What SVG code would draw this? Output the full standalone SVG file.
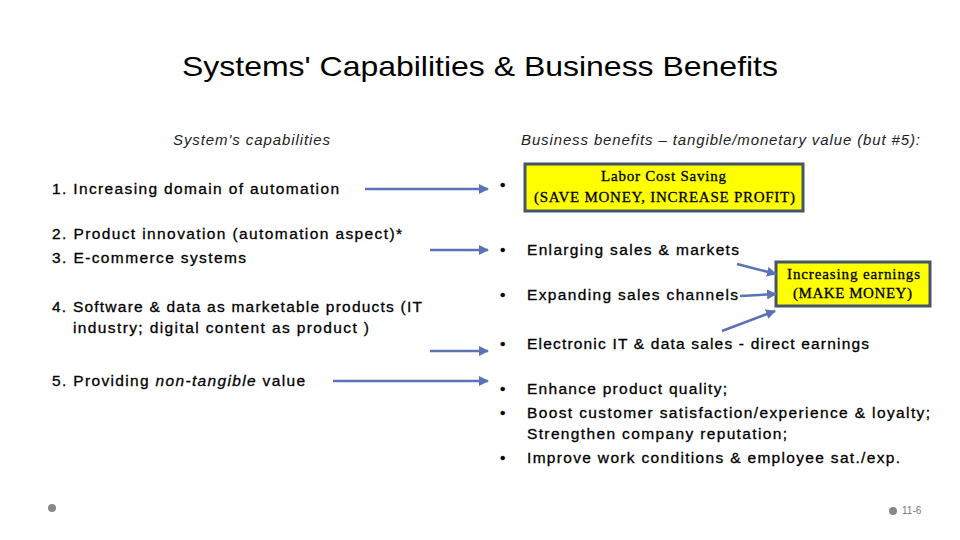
<svg xmlns="http://www.w3.org/2000/svg" width="960" height="540" viewBox="0 0 960 540">
<style>
.t{font-family:"Liberation Sans",Arial,sans-serif;font-size:15.5px;fill:#000;stroke:#000;stroke-width:0.3}
.h{font-family:"Liberation Sans",Arial,sans-serif;font-size:15px;font-style:italic;fill:#222}
.s{font-family:"Liberation Serif","Times New Roman",serif;font-size:15px;fill:#000;stroke:#000;stroke-width:0.3}
.a{stroke:#5b73b5;stroke-width:2.5;fill:none;marker-end:url(#ah)}
.box{fill:#ffff00;stroke:#44546a;stroke-width:3}
</style>
<defs><marker id="ah" viewBox="0 0 10 10" refX="9" refY="5" markerWidth="4" markerHeight="4" orient="auto"><path d="M0,0L10,5L0,10z" fill="#5b73b5"/></marker></defs>
<rect width="960" height="540" fill="#fff"/>
<text x="182" y="76" textLength="596" lengthAdjust="spacingAndGlyphs" font-family="Liberation Sans,Arial,sans-serif" font-size="28" fill="#000">Systems' Capabilities &amp; Business Benefits</text>
<text class="h" x="173" y="145" textLength="157">System's capabilities</text>
<text class="h" x="521" y="145" textLength="399">Business benefits – tangible/monetary value (but #5):</text>
<g id="left">
<text class="t" x="52" y="194" textLength="287">1.  Increasing domain of automation</text>
<text class="t" x="52" y="239" textLength="350">2.  Product innovation (automation aspect)*</text>
<text class="t" x="52" y="263" textLength="194">3.  E-commerce systems</text>
<text class="t" x="52" y="312" textLength="370">4.  Software &amp; data as marketable products (IT</text>
<text class="t" x="73" y="333" textLength="296">industry; digital content as product )</text>
<text class="t" x="52" y="386" textLength="253">5.  Providing <tspan font-style="italic">non-tangible</tspan> value</text>
</g>
<g id="right">
<text class="t" x="500" y="190">•</text>
<text class="t" x="500" y="255">•</text><text class="t" x="527" y="255" textLength="212">Enlarging sales &amp; markets</text>
<text class="t" x="500" y="300">•</text><text class="t" x="527" y="300" textLength="211">Expanding sales channels</text>
<text class="t" x="500" y="349">•</text><text class="t" x="527" y="349" textLength="342">Electronic IT &amp; data sales - direct earnings</text>
<text class="t" x="500" y="394">•</text><text class="t" x="527" y="394" textLength="200">Enhance product quality;</text>
<text class="t" x="500" y="418">•</text><text class="t" x="527" y="418" textLength="403">Boost customer satisfaction/experience &amp; loyalty;</text>
<text class="t" x="527" y="439" textLength="260">Strengthen company reputation;</text>
<text class="t" x="500" y="463">•</text><text class="t" x="527" y="463" textLength="373">Improve work conditions &amp; employee sat./exp.</text>
</g>
<g id="labor"><rect class="box" x="525" y="164" width="278" height="47"/>
<text class="s" x="601" y="181" textLength="125">Labor Cost Saving</text><text class="s" x="534" y="202" textLength="261">(SAVE MONEY, INCREASE PROFIT)</text></g>
<g id="earnings"><rect class="box" x="776" y="262" width="154" height="44"/>
<text class="s" x="787" y="279" textLength="133">Increasing earnings</text><text class="s" x="793" y="298" textLength="119">(MAKE MONEY)</text></g>
<g id="connectors">
<line class="a" x1="365" y1="189" x2="488" y2="189"/>
<line class="a" x1="430" y1="250" x2="488" y2="250"/>
<line class="a" x1="430" y1="351" x2="488" y2="351"/>
<line class="a" x1="333" y1="381" x2="488" y2="381"/>
<line class="a" x1="737" y1="264" x2="776" y2="274"/>
<line class="a" x1="740" y1="296" x2="776" y2="294"/>
<line class="a" x1="722" y1="331" x2="775" y2="311"/>
</g>
<circle cx="52" cy="508" r="4" fill="#888"/>
<circle cx="893" cy="511" r="4" fill="#888"/>
<text x="902" y="514" font-family="Liberation Sans,Arial,sans-serif" font-size="10" fill="#777">11-6</text>
</svg>
